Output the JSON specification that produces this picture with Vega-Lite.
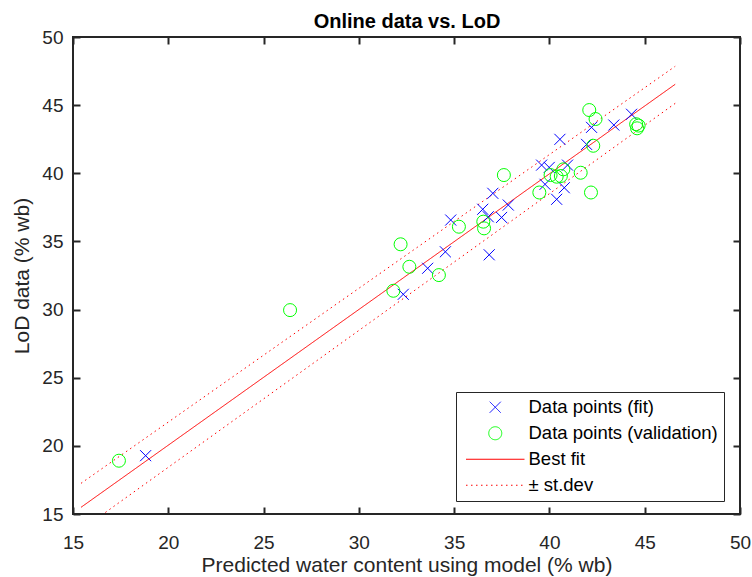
{
  "$schema": "https://vega.github.io/schema/vega-lite/v6.json",
  "width": 667,
  "height": 477,
  "autosize": {"type": "none"},
  "padding": {"left": 73, "top": 37, "right": 12, "bottom": 63},
  "background": "white",
  "config": {"view": {"stroke": "#262626", "strokeWidth": 2}, "font": "Liberation Sans"},
  "datasets": {
    "points": [
      {"series": "Data points (fit)", "x": 18.81, "y": 19.28},
      {"series": "Data points (fit)", "x": 32.33, "y": 31.12},
      {"series": "Data points (fit)", "x": 33.61, "y": 33.03},
      {"series": "Data points (fit)", "x": 34.54, "y": 34.24},
      {"series": "Data points (fit)", "x": 34.82, "y": 36.57},
      {"series": "Data points (fit)", "x": 36.84, "y": 34.02},
      {"series": "Data points (fit)", "x": 36.50, "y": 37.36},
      {"series": "Data points (fit)", "x": 36.79, "y": 36.81},
      {"series": "Data points (fit)", "x": 37.03, "y": 38.53},
      {"series": "Data points (fit)", "x": 37.49, "y": 36.76},
      {"series": "Data points (fit)", "x": 37.84, "y": 37.67},
      {"series": "Data points (fit)", "x": 39.59, "y": 40.60},
      {"series": "Data points (fit)", "x": 39.99, "y": 40.43},
      {"series": "Data points (fit)", "x": 40.95, "y": 40.60},
      {"series": "Data points (fit)", "x": 39.77, "y": 39.19},
      {"series": "Data points (fit)", "x": 40.78, "y": 38.94},
      {"series": "Data points (fit)", "x": 40.38, "y": 38.09},
      {"series": "Data points (fit)", "x": 40.55, "y": 42.49},
      {"series": "Data points (fit)", "x": 41.95, "y": 42.12},
      {"series": "Data points (fit)", "x": 42.21, "y": 43.37},
      {"series": "Data points (fit)", "x": 43.38, "y": 43.54},
      {"series": "Data points (fit)", "x": 44.31, "y": 44.33},
      {"series": "Data points (validation)", "x": 17.41, "y": 18.91},
      {"series": "Data points (validation)", "x": 26.39, "y": 29.96},
      {"series": "Data points (validation)", "x": 31.81, "y": 31.38},
      {"series": "Data points (validation)", "x": 32.65, "y": 33.14},
      {"series": "Data points (validation)", "x": 34.20, "y": 32.53},
      {"series": "Data points (validation)", "x": 32.19, "y": 34.79},
      {"series": "Data points (validation)", "x": 35.25, "y": 36.08},
      {"series": "Data points (validation)", "x": 36.53, "y": 36.45},
      {"series": "Data points (validation)", "x": 36.57, "y": 35.96},
      {"series": "Data points (validation)", "x": 37.61, "y": 39.87},
      {"series": "Data points (validation)", "x": 39.47, "y": 38.59},
      {"series": "Data points (validation)", "x": 40.06, "y": 39.87},
      {"series": "Data points (validation)", "x": 40.38, "y": 39.75},
      {"series": "Data points (validation)", "x": 40.60, "y": 39.80},
      {"series": "Data points (validation)", "x": 40.73, "y": 40.29},
      {"series": "Data points (validation)", "x": 41.64, "y": 40.04},
      {"series": "Data points (validation)", "x": 42.18, "y": 38.59},
      {"series": "Data points (validation)", "x": 42.09, "y": 44.64},
      {"series": "Data points (validation)", "x": 42.42, "y": 43.98},
      {"series": "Data points (validation)", "x": 42.30, "y": 42.02},
      {"series": "Data points (validation)", "x": 44.55, "y": 43.60},
      {"series": "Data points (validation)", "x": 44.60, "y": 43.30},
      {"series": "Data points (validation)", "x": 44.68, "y": 43.50}
    ],
    "lines": [
      {"series": "Best fit", "line": "fit", "x": 15.42, "y": 15.49},
      {"series": "Best fit", "line": "fit", "x": 46.60, "y": 46.53},
      {"series": "± st.dev", "line": "upper", "x": 15.42, "y": 17.25},
      {"series": "± st.dev", "line": "upper", "x": 46.60, "y": 47.85},
      {"series": "± st.dev", "line": "lower", "x": 15.42, "y": 13.83},
      {"series": "± st.dev", "line": "lower", "x": 46.60, "y": 45.13}
    ]
  },
  "layer": [
    {
      "data": {"name": "lines"},
      "mark": {"type": "line", "clip": true, "strokeWidth": 1},
      "encoding": {
        "x": {"field": "x", "type": "quantitative", "scale": {"domain": [15, 50], "nice": false, "zero": false},
          "axis": {"orient": "top", "values": [15, 20, 25, 30, 35, 40, 45, 50], "labels": false, "title": "Online data vs. LoD", "titleFont": "Liberation Sans", "titleFontSize": 20, "titleFontWeight": "bold", "titleColor": "#000000", "titlePadding": 5, "grid": false, "domain": false, "offset": -7, "tickSize": 7, "tickWidth": 2, "tickColor": "#262626"}},
        "y": {"field": "y", "type": "quantitative", "scale": {"domain": [15, 50], "nice": false, "zero": false},
          "axis": {"orient": "right", "values": [15, 20, 25, 30, 35, 40, 45, 50], "labels": false, "title": null, "grid": false, "domain": false, "offset": -7, "tickSize": 7, "tickWidth": 2, "tickColor": "#262626"}},
        "color": {"field": "series", "type": "nominal",
          "scale": {"domain": ["Data points (fit)", "Data points (validation)", "Best fit", "± st.dev"], "range": ["#0000ff", "#00ff00", "#ff0000", "#ff0000"]}},
        "strokeDash": {"field": "series", "type": "nominal",
          "scale": {"domain": ["Data points (fit)", "Data points (validation)", "Best fit", "± st.dev"], "range": [[1, 0], [1, 0], [1, 0], [1.5, 3.5]]}},
        "detail": {"field": "line"}
      }
    },
    {
      "data": {"name": "points"},
      "mark": {"type": "point", "filled": false, "size": 169, "strokeWidth": 1, "opacity": 1},
      "encoding": {
        "x": {"field": "x", "type": "quantitative",
          "axis": {"orient": "bottom", "values": [15, 20, 25, 30, 35, 40, 45, 50], "grid": false, "domain": false, "offset": -7, "tickSize": 7, "tickWidth": 2, "tickColor": "#262626", "labelPadding": 19, "labelFontSize": 19, "labelColor": "#262626", "labelFlush": false, "title": "Predicted water content using model (% wb)", "titleFontSize": 21, "titleFontWeight": "normal", "titleColor": "#262626", "titlePadding": 2}},
        "y": {"field": "y", "type": "quantitative",
          "axis": {"orient": "left", "values": [15, 20, 25, 30, 35, 40, 45, 50], "grid": false, "domain": false, "offset": -7, "tickSize": 7, "tickWidth": 2, "tickColor": "#262626", "labelPadding": 10, "labelFontSize": 19, "labelColor": "#262626", "labelFlush": false, "title": "LoD data (% wb)", "titleFontSize": 21, "titleFontWeight": "normal", "titleColor": "#262626", "titlePadding": 9}},
        "color": {"field": "series", "type": "nominal",
          "scale": {"domain": ["Data points (fit)", "Data points (validation)", "Best fit", "± st.dev"], "range": ["#0000ff", "#00ff00", "#ff0000", "#ff0000"]},
          "legend": {"orient": "none", "legendX": 383, "legendY": 355, "title": null, "strokeColor": "#262626", "fillColor": "white", "padding": 6, "symbolSize": 169, "symbolStrokeWidth": 1, "symbolOffset": 24, "labelOffset": 24, "labelFontSize": 18.5, "labelFont": "Liberation Sans", "labelColor": "#000000", "labelLimit": 400, "rowPadding": 7}},
        "shape": {"field": "series", "type": "nominal",
          "scale": {"domain": ["Data points (fit)", "Data points (validation)", "Best fit", "± st.dev"], "range": ["M-0.85,-0.85L0.85,0.85M-0.85,0.85L0.85,-0.85", "circle", "M-4.5,0L4.5,0", "M-4.5,0L4.5,0"]}}
      }
    }
  ],
  "resolve": {"axis": {"x": "independent", "y": "independent"}}
}
